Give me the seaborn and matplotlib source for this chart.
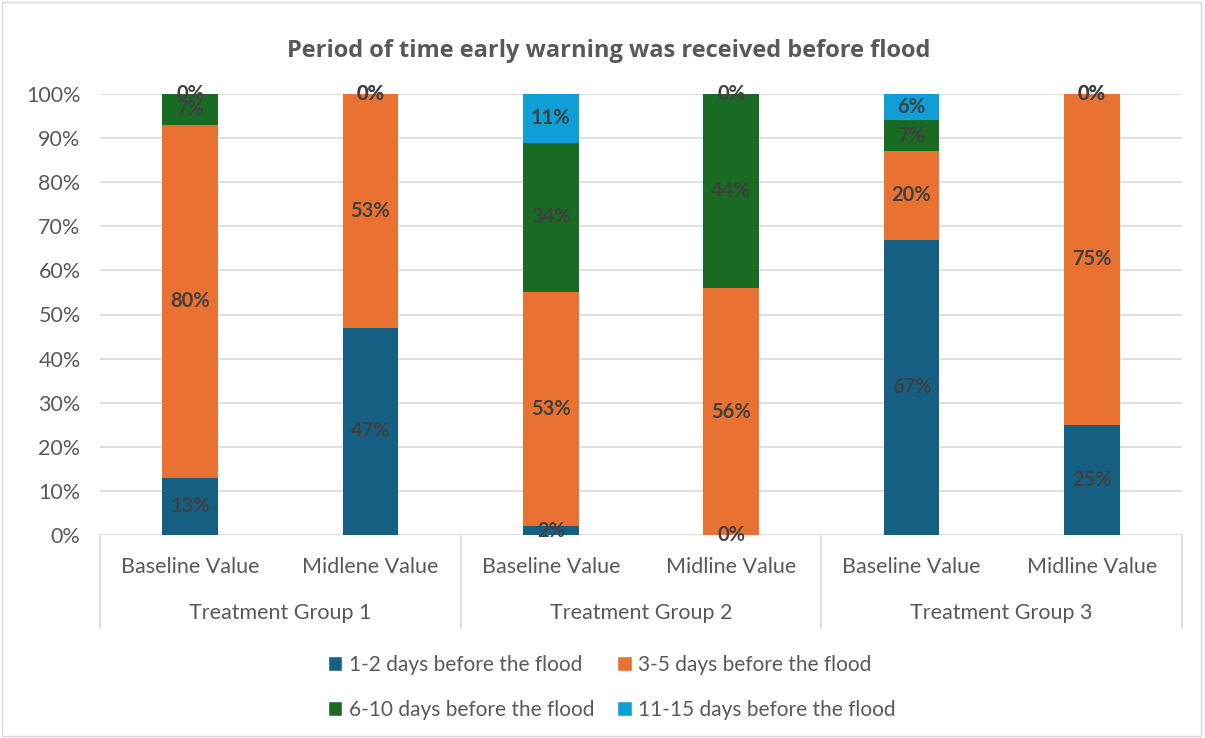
import pandas as pd
import matplotlib.pyplot as plt
import seaborn as sns
from matplotlib.patches import Patch, Rectangle

# chart data (percent of respondents)
groups = ['Treatment Group 1', 'Treatment Group 2', 'Treatment Group 3']
bar_labels = ['Baseline Value', 'Midlene Value', 'Baseline Value', 'Midline Value',
              'Baseline Value', 'Midline Value']
series = ['1-2 days before the flood', '3-5 days before the flood',
          '6-10 days before the flood', '11-15 days before the flood']
days_1_2 = [13, 47, 2, 0, 67, 25]
days_3_5 = [80, 53, 53, 56, 20, 75]
days_6_10 = [7, 0, 34, 44, 7, 0]
days_11_15 = [0, 0, 11, 0, 6, 0]

colors = ['#156082', '#E97132', '#196B24', '#0F9ED5']
font = 'Lato'

values = [days_1_2, days_3_5, days_6_10, days_11_15]
keys = [f'b{i}' for i in range(len(bar_labels))]

# cumulative tops for each series, used to draw stacked bars back to front
df = pd.DataFrame({'key': keys})
running = [0] * len(keys)
bottoms = []
for s, v in zip(series, values):
    bottoms.append(list(running))
    running = [r + x for r, x in zip(running, v)]
    df[s] = [r / 100 for r in running]

sns.set_style('white')
plt.rcParams['font.family'] = [font, 'DejaVu Sans']

fig = plt.figure(figsize=(12.05, 7.38), dpi=100)
ax = fig.add_axes([100 / 1205, 203 / 738, 1082 / 1205, 441 / 738])

for s, c in reversed(list(zip(series, colors))):
    sns.barplot(data=df, x='key', y=s, order=keys, color=c, width=0.31,
                saturation=1, ax=ax, zorder=3, linewidth=0)

# data labels in the middle of each segment
for v, b in zip(values, bottoms):
    for i, (val, bot) in enumerate(zip(v, b)):
        ax.text(i, (bot + val / 2) / 100, f'{val}%', ha='center', va='center',
                fontsize=14.5, fontweight='bold', color='#404040', zorder=5)

ax.set_xlim(-0.5, 5.5)
ax.set_ylim(0, 1)
ax.set_yticks([i / 10 for i in range(11)])
ax.set_yticklabels([f'{i * 10}%' for i in range(11)], fontsize=15.5, color='#595959')
ax.tick_params(axis='y', length=0, pad=14)
ax.set_xticks([])
ax.set_xlabel('')
ax.set_ylabel('')
ax.grid(axis='y', color='#d9d9d9', linewidth=1.2, zorder=0)
ax.set_axisbelow(True)
for sp in ax.spines.values():
    sp.set_visible(False)

# two-level category axis
trans = ax.get_xaxis_transform()
for i, lab in enumerate(bar_labels):
    ax.text(i, -0.072, lab, transform=trans, ha='center', va='center',
            fontsize=15.5, color='#595959')
for g, lab in enumerate(groups):
    ax.text(2 * g + 0.5, -0.176, lab, transform=trans, ha='center', va='center',
            fontsize=15.5, color='#595959')
for xs in [-0.5, 1.5, 3.5, 5.5]:
    ax.plot([xs, xs], [0, -0.211], transform=trans, color='#d9d9d9',
            linewidth=1.2, clip_on=False)

fig.suptitle('Period of time early warning was received before flood',
             x=0.505, y=0.947, fontsize=17, fontweight='bold', color='#595959',
             family=['Open Sans', 'DejaVu Sans'])

# row-major order like the reference legend
handles = [Patch(facecolor=c, label=s) for s, c in zip(series, colors)]
handles = [handles[0], handles[2], handles[1], handles[3]]
fig.legend(handles=handles, loc='center', bbox_to_anchor=(0.5075, 0.069), ncol=2,
           frameon=False, fontsize=15, labelcolor='#595959', handlelength=0.7,
           handleheight=0.7, handletextpad=0.3, columnspacing=1.1, labelspacing=1.2)

fig.patches.append(Rectangle((0.002, 0.003), 0.995, 0.994, transform=fig.transFigure,
                             fill=False, edgecolor='#d9d9d9', linewidth=1))

fig.savefig('out.png', dpi=100, facecolor='white')
